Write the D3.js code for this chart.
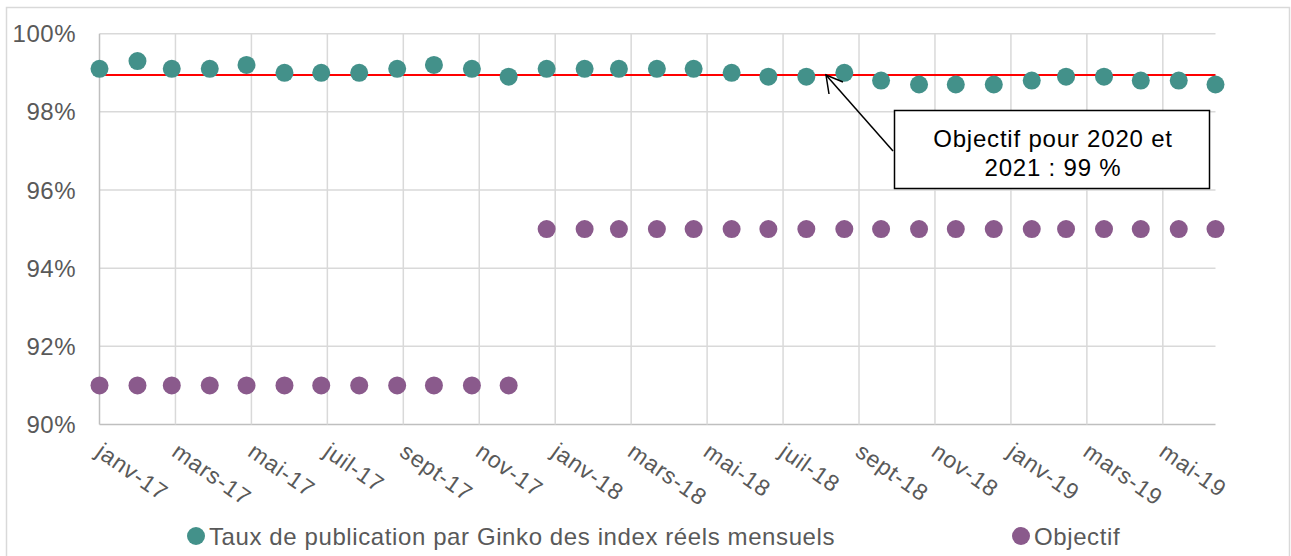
<!DOCTYPE html>
<html>
<head>
<meta charset="utf-8">
<script src="https://cdn.jsdelivr.net/npm/d3@7"></script>
<style>
  body { margin: 0; background: #fff; }
  svg { font-family: "Liberation Sans", Arial, sans-serif; }
</style>
</head>
<body>
<div id="chart"></div>
<script>
'use strict';

// mois (un point par mois, janv-17 -> juil-19)
const mois = [
  '2017-01','2017-02','2017-03','2017-04','2017-05','2017-06','2017-07','2017-08','2017-09','2017-10','2017-11','2017-12',
  '2018-01','2018-02','2018-03','2018-04','2018-05','2018-06','2018-07','2018-08','2018-09','2018-10','2018-11','2018-12',
  '2019-01','2019-02','2019-03','2019-04','2019-05','2019-06','2019-07'
];

// taux de publication (%)
const tauxPublication = [
  99.1, 99.3, 99.1, 99.1, 99.2, 99.0, 99.0, 99.0, 99.1, 99.2, 99.1, 98.9,
  99.1, 99.1, 99.1, 99.1, 99.1, 99.0, 98.9, 98.9, 99.0, 98.8, 98.7, 98.7,
  98.7, 98.8, 98.9, 98.9, 98.8, 98.8, 98.7
];

// objectif (%)
const objectif = [
  91, 91, 91, 91, 91, 91, 91, 91, 91, 91, 91, 91,
  95, 95, 95, 95, 95, 95, 95, 95, 95, 95, 95, 95,
  95, 95, 95, 95, 95, 95, 95
];

const ligneObjectif = 98.94;

const yTicks = [90, 92, 94, 96, 98, 100];
const xTickLabels = ['janv-17','mars-17','mai-17','juil-17','sept-17','nov-17','janv-18','mars-18',
  'mai-18','juil-18','sept-18','nov-18','janv-19','mars-19','mai-19'];

const series = [
  { name: 'Taux de publication par Ginko des index réels mensuels', values: tauxPublication, color: '#43918A' },
  { name: 'Objectif', values: objectif, color: '#8A5A8C' }
];

const width = 1291;
const height = 556;
const parse = d3.timeParse('%Y-%m');
const dates = mois.map(parse);

const svg = d3.select('#chart').append('svg')
  .attr('width', width)
  .attr('height', height);

// cadre
svg.append('rect')
  .attr('x', 6.5).attr('y', 7.5)
  .attr('width', 1283).attr('height', 560)
  .attr('fill', 'none')
  .attr('stroke', '#D9D9D9')
  .attr('stroke-width', 1.5);

const x = d3.scaleTime()
  .domain([dates[0], dates[dates.length - 1]])
  .range([99.5, 1215.5]);

const y = d3.scaleLinear()
  .domain([90, 100])
  .range([424.5, 33.7]);

// axe date : graduation tous les 62 jours (comme Excel)
const xTickValues = xTickLabels.map((d, i) => d3.timeDay.offset(dates[0], 62 * i));

const grid = svg.append('g');
grid.selectAll('line.h')
  .data(yTicks)
  .join('line')
  .attr('x1', x.range()[0]).attr('x2', x.range()[1])
  .attr('y1', d => y(d)).attr('y2', d => y(d))
  .attr('stroke', d => d === 90 ? '#BFBFBF' : '#D9D9D9')
  .attr('stroke-width', 1.5);

grid.selectAll('line.v')
  .data(xTickValues)
  .join('line')
  .attr('x1', d => x(d)).attr('x2', d => x(d))
  .attr('y1', y(100)).attr('y2', y(90))
  .attr('stroke', (d, i) => i === 0 ? '#BFBFBF' : '#D9D9D9')
  .attr('stroke-width', 1.5);

// libellés y
svg.append('g').selectAll('text')
  .data(yTicks)
  .join('text')
  .attr('x', 76)
  .attr('y', d => y(d) + 8.5)
  .attr('text-anchor', 'end')
  .attr('font-size', 24)
  .attr('letter-spacing', 0.5)
  .attr('fill', '#595959')
  .text(d => d + '%');

// libellés x
svg.append('g').selectAll('text')
  .data(xTickValues)
  .join('text')
  .attr('transform', d => `translate(${x(d) - 5},${455}) rotate(35)`)
  .attr('font-size', 23)
  .attr('letter-spacing', 0.8)
  .attr('fill', '#595959')
  .text((d, i) => xTickLabels[i]);

// ligne objectif 99 %
svg.append('line')
  .attr('x1', x.range()[0]).attr('x2', x.range()[1])
  .attr('y1', y(ligneObjectif)).attr('y2', y(ligneObjectif))
  .attr('stroke', '#FF0000')
  .attr('stroke-width', 2);

// points
series.forEach(s => {
  svg.append('g').selectAll('circle')
    .data(s.values)
    .join('circle')
    .attr('cx', (d, i) => x(dates[i]))
    .attr('cy', d => y(d))
    .attr('r', 9)
    .attr('fill', s.color);
});

// annotation
const note = svg.append('g');
note.append('line')
  .attr('x1', 893).attr('y1', 151)
  .attr('x2', 826).attr('y2', 75)
  .attr('stroke', '#000').attr('stroke-width', 1.5);
note.append('path')
  .attr('d', 'M843,82 L826,75 L829,94')
  .attr('fill', 'none')
  .attr('stroke', '#000').attr('stroke-width', 1.5);
note.append('rect')
  .attr('x', 894.5).attr('y', 110.5)
  .attr('width', 315).attr('height', 78)
  .attr('fill', '#fff')
  .attr('stroke', '#000').attr('stroke-width', 1.5);
note.append('text')
  .attr('x', 1053).attr('y', 147)
  .attr('text-anchor', 'middle')
  .attr('font-size', 24)
  .attr('letter-spacing', 0.8)
  .text('Objectif pour 2020 et');
note.append('text')
  .attr('x', 1053).attr('y', 176)
  .attr('text-anchor', 'middle')
  .attr('font-size', 24)
  .attr('letter-spacing', 0.8)
  .text('2021 : 99 %');

// légende
const legendX = [196, 1021];
const legend = svg.append('g').selectAll('g')
  .data(series)
  .join('g')
  .attr('transform', (d, i) => `translate(${legendX[i]},536)`);
legend.append('circle')
  .attr('r', 9)
  .attr('fill', d => d.color);
legend.append('text')
  .attr('x', 13)
  .attr('y', 8.5)
  .attr('font-size', 24)
  .attr('letter-spacing', 0.6)
  .attr('fill', '#595959')
  .text(d => d.name);
</script>
</body>
</html>
